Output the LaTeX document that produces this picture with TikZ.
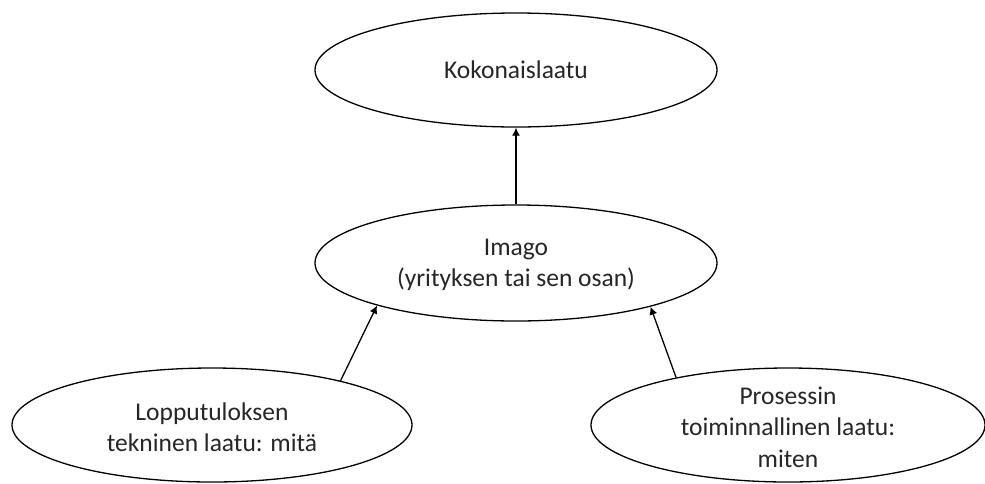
\documentclass[tikz,border=0pt]{standalone}
\usepackage{fontspec}
\setmainfont{Carlito}
\usetikzlibrary{shapes.geometric,arrows.meta}
\tikzset{
  oval/.style={draw, ellipse, line width=1.3pt, inner sep=0pt, fill=white},
  txt/.style={align=center, font=\fontsize{25.5}{31.5}\selectfont, text=black!85, inner sep=0pt},
  conn/.style={line width=1.3pt, -{Latex[length=8pt,width=8pt]}}
}
\begin{document}
\begin{tikzpicture}[x=1pt,y=-1pt]
\useasboundingbox (0,0) rectangle (985,483);
\fill[white] (0,0) rectangle (985,483);
\node[oval, minimum width=402pt, minimum height=114pt] (top) at (516,70) {};
\node[txt] (toptxt) at (top) {Kokonaislaatu};
\node[oval, minimum width=402pt, minimum height=116pt] (mid) at (516,263) {};
\node[txt] (midtxt) at (516,265) {Imago\\(yrityksen tai sen osan)};
\node[oval, minimum width=400pt, minimum height=114pt] (bl) at (212,425) {};
\node[txt] (bltxt) at (212,427) {Lopputuloksen\\tekninen laatu: mitä};
\node[oval, minimum width=394pt, minimum height=114pt] (br) at (788,425) {};
\node[txt] (brtxt) at (788,427) {Prosessin\\toiminnallinen laatu:\\miten};
\draw[conn] (mid.north) -- (top.south);
\draw[conn] (bl.19.7) -- (mid.197.3);
\draw[conn] (br.157.4) -- (mid.342.4);
\end{tikzpicture}
\end{document}
